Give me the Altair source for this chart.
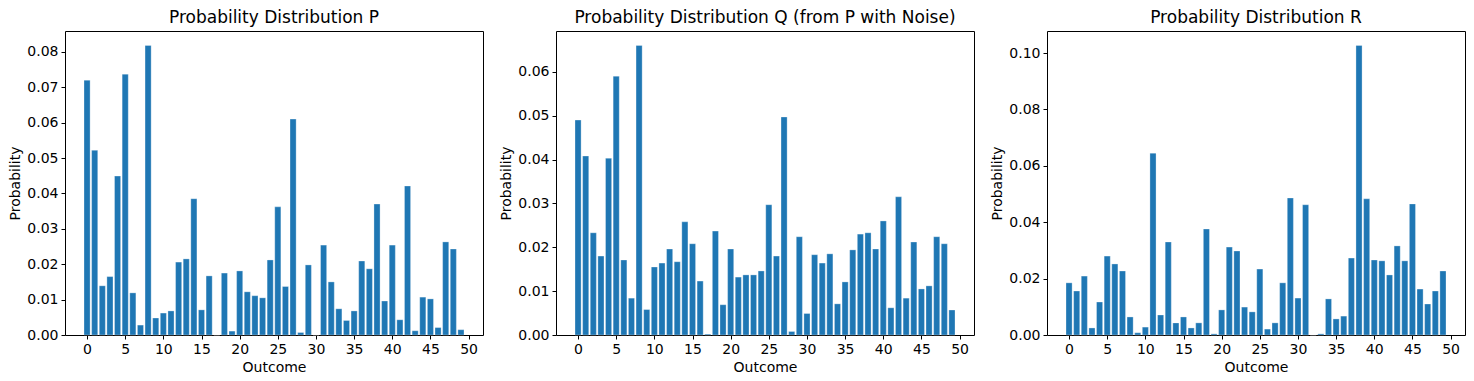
import altair as alt
import pandas as pd

outcomes = list(range(50))

p_values = [0.0720, 0.0522, 0.0139, 0.0165, 0.0449, 0.0737, 0.0119, 0.0028, 0.0818, 0.0048,
            0.0062, 0.0068, 0.0206, 0.0215, 0.0385, 0.0071, 0.0167, 0.0, 0.0175, 0.0011,
            0.0181, 0.0122, 0.0111, 0.0105, 0.0212, 0.0362, 0.0137, 0.0610, 0.0007, 0.0198,
            0.0, 0.0254, 0.0150, 0.0074, 0.0041, 0.0068, 0.0209, 0.0187, 0.0370, 0.0096,
            0.0254, 0.0043, 0.0421, 0.0012, 0.0107, 0.0102, 0.0021, 0.0263, 0.0243, 0.0015]

q_values = [0.0490, 0.0408, 0.0233, 0.0180, 0.0403, 0.0590, 0.0171, 0.0084, 0.0660, 0.0058,
            0.0155, 0.0164, 0.0196, 0.0167, 0.0258, 0.0208, 0.0123, 0.0002, 0.0237, 0.0069,
            0.0196, 0.0132, 0.0137, 0.0137, 0.0146, 0.0297, 0.0180, 0.0497, 0.0008, 0.0224,
            0.0049, 0.0183, 0.0164, 0.0185, 0.0071, 0.0121, 0.0194, 0.0230, 0.0233, 0.0196,
            0.0260, 0.0062, 0.0315, 0.0084, 0.0212, 0.0105, 0.0112, 0.0224, 0.0208, 0.0057]

r_values = [0.0185, 0.0156, 0.0209, 0.0025, 0.0117, 0.0280, 0.0252, 0.0227, 0.0064, 0.0008,
            0.0028, 0.0645, 0.0071, 0.0330, 0.0043, 0.0064, 0.0025, 0.0043, 0.0376, 0.0004,
            0.0089, 0.0312, 0.0298, 0.0099, 0.0082, 0.0234, 0.0021, 0.0043, 0.0185, 0.0486,
            0.0131, 0.0462, 0.0, 0.0004, 0.0128, 0.0057, 0.0067, 0.0273, 0.1027, 0.0483,
            0.0266, 0.0263, 0.0213, 0.0316, 0.0263, 0.0465, 0.0163, 0.0110, 0.0156, 0.0227]

titles = ["Probability Distribution P",
          "Probability Distribution Q (from P with Noise)",
          "Probability Distribution R"]
x_ticks = [0, 5, 10, 15, 20, 25, 30, 35, 40, 45, 50]
y_ticks_p = [0.0, 0.01, 0.02, 0.03, 0.04, 0.05, 0.06, 0.07, 0.08]
y_ticks_q = [0.0, 0.01, 0.02, 0.03, 0.04, 0.05, 0.06]
y_ticks_r = [0.0, 0.02, 0.04, 0.06, 0.08, 0.10]

FONT = "DejaVu Sans"


def panel(values, title, yticks):
    df = pd.DataFrame({"outcome": outcomes, "prob": values})
    ymax = max(values) * 1.05
    return (
        alt.Chart(df)
        .transform_calculate(x0="datum.outcome - 0.4", x1="datum.outcome + 0.4")
        .mark_rect(color="#1f77b4", stroke="white", strokeWidth=0.3)
        .encode(
            x=alt.X("x0:Q",
                    scale=alt.Scale(domain=[-2.89, 51.89], nice=False, zero=False),
                    axis=alt.Axis(values=x_ticks, title="Outcome", format="d")),
            x2="x1:Q",
            y=alt.Y("prob:Q",
                    scale=alt.Scale(domain=[0, ymax], nice=False),
                    axis=alt.Axis(values=yticks, title="Probability", format=".2f")),
            y2=alt.datum(0),
        )
        .properties(width=418, height=304,
                    title=alt.TitleParams(title, fontSize=17, font=FONT,
                                          fontWeight="normal", color="black", offset=4))
    )


chart = (
    alt.hconcat(
        panel(p_values, titles[0], y_ticks_p),
        panel(q_values, titles[1], y_ticks_q),
        panel(r_values, titles[2], y_ticks_r),
        spacing=15,
    )
    .properties(padding={"left": 0, "top": 0, "right": 0, "bottom": 0})
    .configure_view(stroke="black", strokeWidth=1)
    .configure_axis(
        grid=False,
        domain=False,
        labelFont=FONT, titleFont=FONT,
        labelFontSize=14, titleFontSize=14,
        labelColor="black", titleColor="black",
        titleFontWeight="normal",
        tickColor="black", tickSize=4,
        labelPadding=3, titlePadding=4,
    )
)

chart.save("out.html", embed_options={"renderer": "svg", "actions": False})
